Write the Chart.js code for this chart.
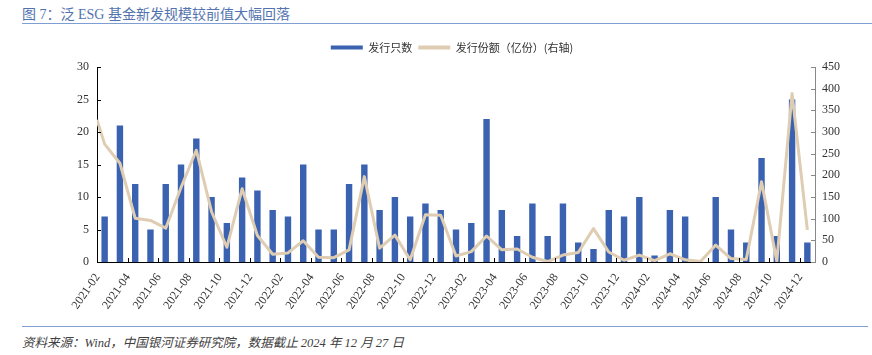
<!DOCTYPE html>
<html><head><meta charset="utf-8">
<script src="https://cdn.jsdelivr.net/npm/chart.js@4"></script>
<style>
html,body{margin:0;padding:0;background:#fff;width:872px;height:355px;overflow:hidden;}
#title{position:absolute;left:22px;top:3px;font:14px "Liberation Serif","Noto Sans CJK SC",serif;color:#5273b0;white-space:nowrap;}
#tline{position:absolute;left:22px;top:23px;width:850px;height:0;border-top:1.5px solid #7f9ed3;}
#bline{position:absolute;left:22px;top:326px;width:846px;height:0;border-top:1.5px solid #7f9ed3;}
#source{position:absolute;left:22px;top:332px;font:italic 12.5px "Liberation Serif","Noto Sans CJK SC",serif;color:#404040;white-space:nowrap;}
#wrap{position:absolute;left:32px;top:0;width:840px;height:325px;}
</style></head>
<body>
<div id="title">图 7：泛 ESG 基金新发规模较前值大幅回落</div>
<div id="tline"></div>
<div id="wrap"><canvas id="c"></canvas></div>
<div id="bline"></div>
<div id="source">资料来源：Wind，中国银河证券研究院，数据截止 2024 年 12 月 27 日</div>
<script>
const months = ['2021-02','2021-03','2021-04','2021-05','2021-06','2021-07','2021-08','2021-09','2021-10','2021-11','2021-12',
  '2022-01','2022-02','2022-03','2022-04','2022-05','2022-06','2022-07','2022-08','2022-09','2022-10','2022-11','2022-12',
  '2023-01','2023-02','2023-03','2023-04','2023-05','2023-06','2023-07','2023-08','2023-09','2023-10','2023-11','2023-12',
  '2024-01','2024-02','2024-03','2024-04','2024-05','2024-06','2024-07','2024-08','2024-09','2024-10','2024-11','2024-12'];
const fundCounts = [7,21,12,5,12,15,19,10,6,13,11,8,7,15,5,5,12,15,8,10,7,9,8,5,6,22,8,4,9,4,9,3,2,8,7,10,1,8,7,0,10,5,3,16,4,25,3];
const shareValues = [272,228,101,96,78,172,258,116,34,169,61,18,21,49,11,10,28,197,32,62,5,109,108,14,24,60,28,30,11,1,16,22,77,23,4,16,3,19,5,1,39,8,6,185,2,389,74];
const shareOpening = 328;
const leftTicks = {min:0, max:30, step:5};
const rightTicks = {min:0, max:450, step:50};
const seriesNames = ['发行只数','发行份额（亿份）(右轴)'];

const barColor = '#3a62b0';
const lineColor = '#dfcdb3';
const tickFont = {family:'"Liberation Serif", serif', size:12};

const inwardTicks = {
  id:'inwardTicks',
  afterDatasetsDraw(chart){
    const {ctx, chartArea, scales} = chart;
    ctx.save();
    ctx.lineWidth = 1;
    ctx.strokeStyle = '#000';
    ctx.beginPath();
    scales.y.ticks.forEach((t,i)=>{
      const y = Math.round(scales.y.getPixelForTick(i)) + 0.5;
      ctx.moveTo(chartArea.left, y); ctx.lineTo(chartArea.left + 4, y);
    });
    const xs = scales.x;
    const w = xs.getPixelForValue(1) - xs.getPixelForValue(0);
    for (let i = 0; i < months.length; i += 2) {
      const x = Math.round(xs.getPixelForValue(i) - w/2) + 0.5;
      ctx.moveTo(x, chartArea.bottom); ctx.lineTo(x, chartArea.bottom - 4);
    }
    ctx.stroke();
    ctx.strokeStyle = '#888';
    ctx.beginPath();
    scales.y1.ticks.forEach((t,i)=>{
      const y = Math.round(scales.y1.getPixelForTick(i)) + 0.5;
      ctx.moveTo(chartArea.right, y); ctx.lineTo(chartArea.right - 4, y);
    });
    ctx.stroke();
    ctx.restore();
  }
};

new Chart(document.getElementById('c'), {
  type:'bar',
  data:{
    labels: months,
    datasets:[
      {type:'bar', label:seriesNames[0], data:fundCounts, backgroundColor:barColor, borderWidth:0,
       grouped:false, barPercentage:0.42, categoryPercentage:1, xAxisID:'x', yAxisID:'y', order:2},
      {type:'line', label:seriesNames[1],
       data:[{x:-0.5, y:shareOpening}].concat(shareValues.map((v,i)=>({x:i, y:v}))),
       borderColor:lineColor, backgroundColor:lineColor, borderWidth:3, pointRadius:0, tension:0,
       borderJoinStyle:'round', fill:false, xAxisID:'xl', yAxisID:'y1', order:1}
    ]
  },
  options:{
    responsive:true, maintainAspectRatio:false, animation:false, devicePixelRatio:1,
    layout:{padding:{top:36, left:0, right:0, bottom:0}},
    plugins:{
      tooltip:{enabled:false},
      legend:{
        position:'top', align:'center',
        labels:{
          boxWidth:32, boxHeight:4, padding:6, color:'#333',
          font:{family:'"Noto Sans CJK SC", sans-serif', size:11},
          sort:(a,b)=>a.datasetIndex-b.datasetIndex,
          generateLabels(chart){
            const items = Chart.defaults.plugins.legend.labels.generateLabels(chart);
            items.forEach(it=>{
              it.lineWidth = 0;
              it.fillStyle = it.datasetIndex === 1 ? lineColor : barColor;
              it.strokeStyle = it.fillStyle;
            });
            return items;
          }
        }
      }
    },
    scales:{
      x:{
        type:'category', offset:true,
        grid:{display:false, drawTicks:false},
        border:{display:true, color:'#000', width:1},
        ticks:{autoSkip:false, minRotation:55, maxRotation:55, padding:9, labelOffset:-7,
          color:'#333', font:tickFont,
          callback:(v,i)=> i % 2 === 0 ? months[i] : null},
        afterFit:s=>{ s.height = 63; }
      },
      xl:{
        type:'linear', position:'top', offset:false, min:-0.5, max:months.length-0.5,
        grid:{display:false, drawTicks:false, offset:false}, border:{display:false}, ticks:{display:false},
        afterFit:s=>{ s.height = 4; }
      },
      y:{
        position:'left', min:leftTicks.min, max:leftTicks.max,
        grid:{display:false, drawTicks:false}, border:{display:true, color:'#000', width:1},
        ticks:{stepSize:leftTicks.step, padding:8, color:'#333', font:tickFont},
        afterFit:s=>{ s.width = 65; }
      },
      y1:{
        position:'right', min:rightTicks.min, max:rightTicks.max,
        grid:{display:false, drawTicks:false}, border:{display:true, color:'#888', width:1},
        ticks:{stepSize:rightTicks.step, padding:7, color:'#333', font:tickFont},
        afterFit:s=>{ s.width = 57; }
      }
    }
  },
  plugins:[inwardTicks]
});
</script>
</body></html>
